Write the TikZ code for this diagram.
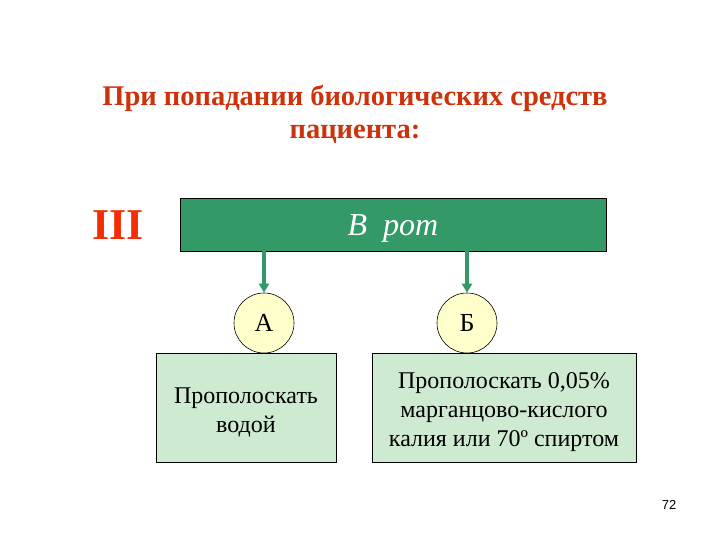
\documentclass[tikz,border=0pt]{standalone}
\usepackage{fontspec}
\setmainfont{Liberation Serif}
\setsansfont{Liberation Sans}
\usetikzlibrary{arrows.meta}
\definecolor{titlered}{RGB}{205,50,10}
\definecolor{numred}{RGB}{245,45,5}
\definecolor{darkgreen}{RGB}{51,153,102}
\definecolor{palegreen}{RGB}{206,234,208}
\definecolor{paleyellow}{RGB}{255,255,204}
\tikzset{
  mainbox/.style={draw=black, fill=darkgreen, line width=0.8pt, minimum width=426pt, minimum height=53pt},
  subbox/.style={draw=black, fill=palegreen, line width=0.6pt, minimum height=109pt},
  subtext/.style={align=center, font=\fontsize{24}{29}\selectfont},
  letter/.style={circle, draw=black, fill=paleyellow, line width=0.6pt, minimum size=60pt, inner sep=0pt, font=\fontsize{26}{28}\selectfont},
  arr/.style={draw=darkgreen, line width=3.5pt, -{Triangle[length=9pt, width=10pt]}}
}

\begin{document}
\begin{tikzpicture}[x=1pt, y=-1pt]
  \useasboundingbox (0,0) rectangle (720,540);
  \node[titlered, align=center, font=\fontsize{28.5}{33}\selectfont\bfseries] (title) at (355,114)
    {При попадании биологических средств\\пациента:};
  \node[numred, font=\fontsize{44}{46}\selectfont\bfseries] (num) at (118,225) {III};
  \node[mainbox] (top) at (393,224.5) {};
  \node[white, font=\fontsize{32}{34}\selectfont\itshape] (toptext) at (393,228) {В\ \ рот};
  \node[subbox, minimum width=180pt] (boxa) at (246,407.5) {};
  \node[subtext] (texta) at (246,412) {Прополоскать\\водой};
  \node[subbox, minimum width=264pt] (boxb) at (504,407.5) {};
  \node[subtext] (textb) at (504,412.5) {Прополоскать 0,05\%\\марганцово-кислого\\калия или 70º спиртом};
  \node[letter] (a) at (264,323) {А};
  \node[letter] (b) at (467,323) {Б};
  \draw[arr] (a.north |- top.south) -- (a.north);
  \draw[arr] (b.north |- top.south) -- (b.north);
  \node[font=\sffamily\fontsize{13}{15}\selectfont] (page) at (669,505) {72};
\end{tikzpicture}
\end{document}
